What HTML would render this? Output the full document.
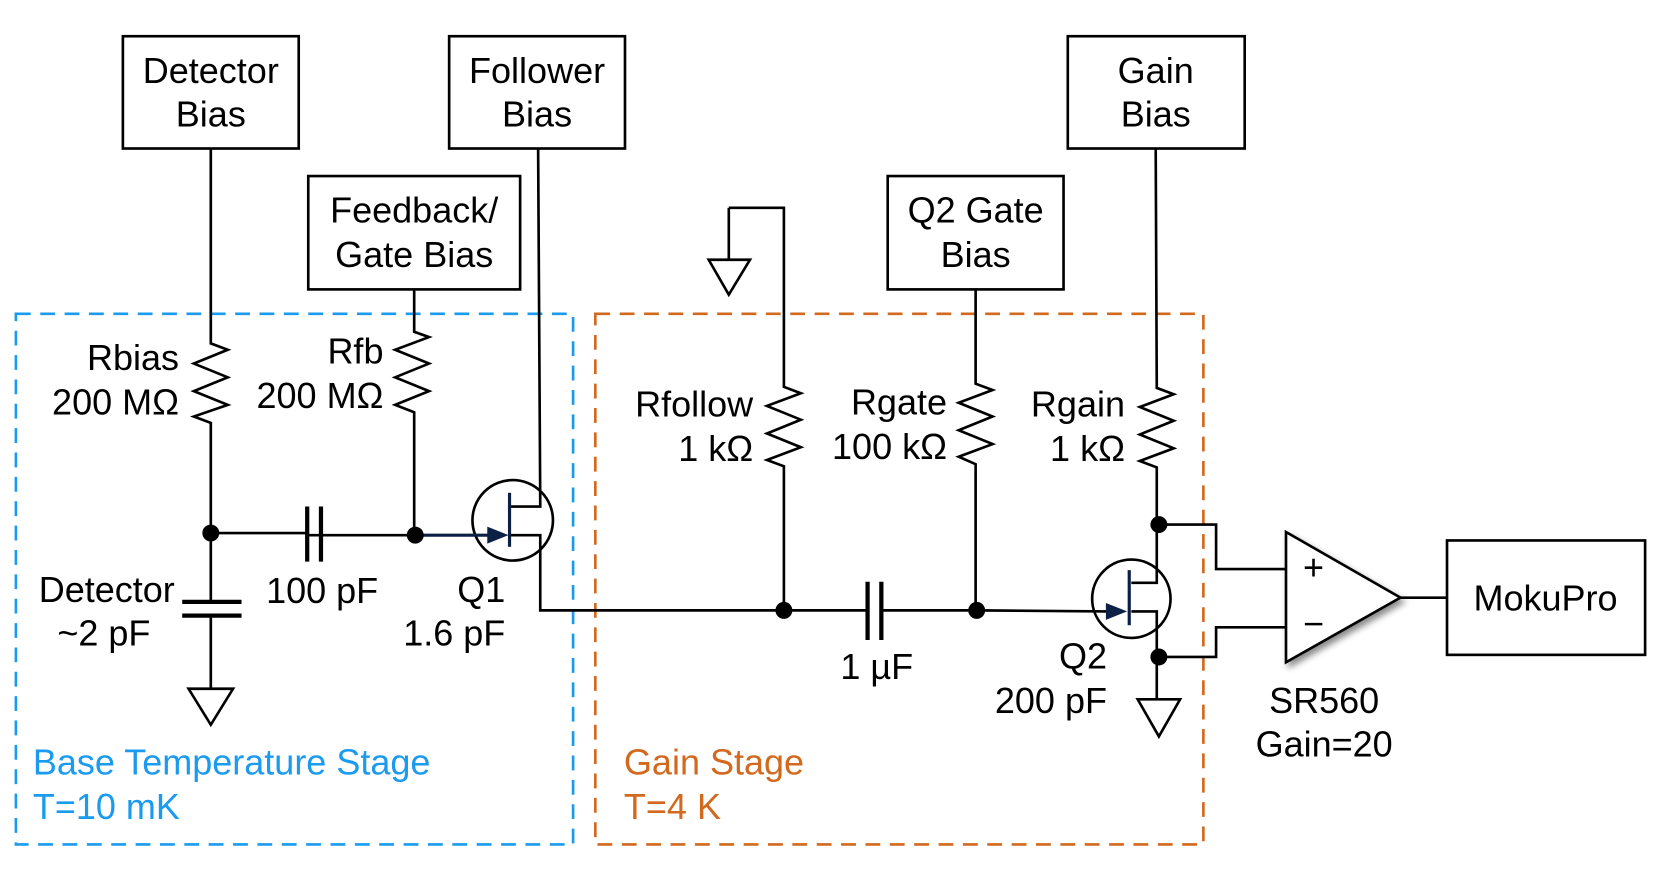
<!DOCTYPE html>
<html><head><meta charset="utf-8"><style>
html,body{margin:0;padding:0;background:#fff;}
svg{display:block;}
text{font-family:"Liberation Sans",sans-serif;font-size:34px;fill:#000;}
</style></head><body>
<svg width="1661" height="886" viewBox="0 0 1568 836" xmlns="http://www.w3.org/2000/svg">
<defs>
<filter id="sh" x="-20%" y="-20%" width="150%" height="150%"><feDropShadow dx="3" dy="4" stdDeviation="3" flood-opacity="0.45"/></filter>
</defs>
<g fill="none" stroke="#000" stroke-width="2.5">
<rect x="116" y="34" width="166" height="106"/>
<rect x="424" y="34" width="166" height="106"/>
<rect x="1008" y="34" width="167" height="106"/>
<rect x="291" y="166" width="200" height="107"/>
<rect x="838" y="166" width="166" height="107"/>
<rect x="1366" y="510" width="187" height="108"/>
<rect x="15" y="296" width="526" height="501" stroke="#1a9bf0" stroke-dasharray="14,9"/>
<rect x="562" y="296" width="574" height="501" stroke="#d2691e" stroke-dasharray="14,9"/>
<polyline points="199,140 199,324 215,330 183,343 215,356 183,369 215,382 183,393 199,399 199,503"/>
<line x1="199" y1="503" x2="199" y2="568"/>
<line x1="172" y1="568" x2="228" y2="568" stroke-width="4"/>
<line x1="172" y1="581" x2="228" y2="581" stroke-width="4"/>
<line x1="199" y1="581" x2="199" y2="650"/>
<polygon points="178,650 220,650 199,684"/>
<line x1="199" y1="503" x2="290" y2="503"/>
<line x1="290" y1="505" x2="392" y2="505"/>
<line x1="290" y1="478" x2="290" y2="530" stroke-width="4"/>
<line x1="303" y1="478" x2="303" y2="530" stroke-width="4"/>
<polyline points="391,273 391,313 405,318 373,330 405,343 373,356 405,369 373,382 391,389 391,505"/>
<polyline points="508,140 510,476 510,478 481,478"/>
<polyline points="481,505 510,505 510,576 740,576"/>
<circle cx="484" cy="491" r="38"/>
<polyline points="688,196 740,196 740,365 756,371 724,383 756,396 724,409 756,422 724,434 740,440 740,576"/>
<line x1="688" y1="196" x2="688" y2="245"/>
<polygon points="669,245 708,245 688,278"/>
<line x1="740" y1="576" x2="819" y2="576"/>
<line x1="832" y1="576" x2="922" y2="576"/>
<line x1="819" y1="549" x2="819" y2="604" stroke-width="4"/>
<line x1="832" y1="549" x2="832" y2="604" stroke-width="4"/>
<polyline points="921,273 921,362 937,368 905,380 937,393 905,406 937,419 905,431 921,438 921,576"/>
<line x1="922" y1="576" x2="1045" y2="577"/>
<polyline points="1091,140 1092,366 1108,372 1076,384 1108,397 1076,410 1108,423 1076,435 1092,441 1092,495"/>
<polyline points="1092,495 1092,550 1068,550"/>
<polyline points="1068,577 1092,577 1092,660"/>
<circle cx="1068" cy="565" r="37"/>
<polygon points="1074,660 1114,660 1094,695"/>
<polyline points="1092,495 1148,495 1148,537 1213,537"/>
<polyline points="1092,620 1148,620 1148,592 1213,592"/>
<polygon points="1214,502 1214,625 1322,564" filter="url(#sh)" fill="#fff"/>
<line x1="1322" y1="564" x2="1366" y2="564"/>
</g>
<g stroke="#0c1f45" stroke-width="3" fill="none">
<line x1="481" y1="465" x2="481" y2="516"/>
<line x1="392" y1="505" x2="470" y2="505"/>
<line x1="1066" y1="538" x2="1066" y2="590"/>
<line x1="1045" y1="577" x2="1056" y2="577"/>
</g>
<g fill="#0c1f45">
<polygon points="460,497 460,513 480,505"/>
<polygon points="1044,569 1044,585 1064,577"/>
</g>
<g fill="#000">
<circle cx="199" cy="503" r="8"/>
<circle cx="392" cy="505" r="8"/>
<circle cx="740" cy="576" r="8"/>
<circle cx="922" cy="576" r="8"/>
<circle cx="1094" cy="495" r="8"/>
<circle cx="1094" cy="620" r="8"/>
</g>
<g text-anchor="middle">
<text x="199" y="78">Detector</text><text x="199" y="119">Bias</text>
<text x="507" y="78">Follower</text><text x="507" y="119">Bias</text>
<text x="1091" y="78">Gain</text><text x="1091" y="119">Bias</text>
<text x="391" y="210">Feedback/</text><text x="391" y="252">Gate Bias</text>
<text x="921" y="210">Q2 Gate</text><text x="921" y="252">Bias</text>
<text x="1459" y="576">MokuPro</text>
<text x="1250" y="673">SR560</text><text x="1250" y="714">Gain=20</text>
<text x="1240" y="547" font-size="28">+</text>
<text x="1240" y="600" font-size="28">−</text>
</g>
<g text-anchor="end">
<text x="169" y="349">Rbias</text><text x="169" y="391">200 MΩ</text>
<text x="362" y="343">Rfb</text><text x="362" y="385">200 MΩ</text>
<text x="711" y="393">Rfollow</text><text x="711" y="435">1 kΩ</text>
<text x="894" y="391">Rgate</text><text x="894" y="433">100 kΩ</text>
<text x="1062" y="393">Rgain</text><text x="1062" y="435">1 kΩ</text>
<text x="165" y="568">Detector</text><text x="142" y="609">~2 pF</text>
<text x="357" y="569">100 pF</text>
<text x="477" y="568">Q1</text><text x="477" y="609">1.6 pF</text>
<text x="862" y="641">1 µF</text>
<text x="1045" y="631">Q2</text><text x="1045" y="673">200 pF</text>
</g>
<text x="31" y="731" style="fill:#1a9bf0">Base Temperature Stage</text>
<text x="31" y="773" style="fill:#1a9bf0">T=10 mK</text>
<text x="589" y="731" style="fill:#d2691e">Gain Stage</text>
<text x="589" y="773" style="fill:#d2691e">T=4 K</text>
</svg>
</body></html>
